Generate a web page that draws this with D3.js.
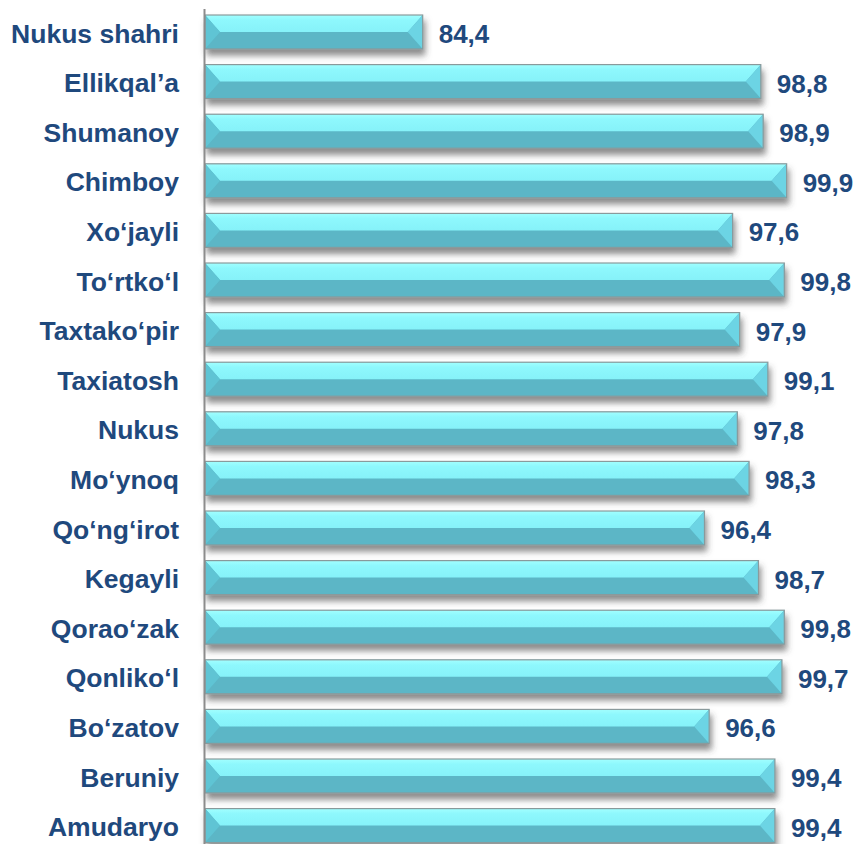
<!DOCTYPE html>
<html>
<head>
<meta charset="utf-8">
<script src="https://cdn.jsdelivr.net/npm/d3@7"></script>
<style>
  body { margin: 0; background: #fff; }
  text { font-family: "Liberation Sans", Arial, sans-serif; font-weight: bold; }
</style>
</head>
<body>
<div id="chart"></div>
<script>
var categories = ["Nukus shahri", "Ellikqal\u2019a", "Shumanoy", "Chimboy", "Xo\u2018jayli", "To\u2018rtko\u2018l",
  "Taxtako\u2018pir", "Taxiatosh", "Nukus", "Mo\u2018ynoq", "Qo\u2018ng\u2018irot", "Kegayli",
  "Qorao\u2018zak", "Qonliko\u2018l", "Bo\u2018zatov", "Beruniy", "Amudaryo"];
var values = [84.4, 98.8, 98.9, 99.9, 97.6, 99.8, 97.9, 99.1, 97.8, 98.3, 96.4, 98.7, 99.8, 99.7, 96.6, 99.4, 99.4];
var valueLabels = ["84,4", "98,8", "98,9", "99,9", "97,6", "99,8", "97,9", "99,1", "97,8", "98,3", "96,4", "98,7",
  "99,8", "99,7", "96,6", "99,4", "99,4"];

var width = 854, height = 844;
var textColor = "#1f497d";

var data = categories.map(function(c, i){
    return { name: c, value: values[i], label: valueLabels[i] };
});

var svg = d3.select("#chart").append("svg")
    .attr("width", width)
    .attr("height", height);

var defs = svg.append("defs");
var shadow = defs.append("filter").attr("id", "shadow")
    .attr("x", "-5%").attr("y", "-30%").attr("width", "115%").attr("height", "180%");
shadow.append("feDropShadow")
    .attr("dx", 2).attr("dy", 6)
    .attr("stdDeviation", 3)
    .attr("flood-color", "#404040")
    .attr("flood-opacity", 0.6);

var topGrad = defs.append("linearGradient").attr("id", "topFace")
    .attr("x1", 0).attr("y1", 0).attr("x2", 0).attr("y2", 1);
topGrad.append("stop").attr("offset", "0%").attr("stop-color", "#a2ffff");
topGrad.append("stop").attr("offset", "30%").attr("stop-color", "#8ef8fd");
topGrad.append("stop").attr("offset", "100%").attr("stop-color", "#86f2f9");

var x = d3.scaleLinear().domain([75, 100]).range([202, 789]);
var y = d3.scaleBand().domain(categories)
    .range([7.2, 7.2 + 17 * 49.6])
    .paddingInner(0.315)
    .paddingOuter(0.1575);

var bev = 15;

var bars = svg.selectAll("g.bar")
    .data(data)
    .enter()
    .append("g")
    .classed("bar", true)
    .attr("filter", "url(#shadow)");

// full bar body
bars.append("rect")
    .attr("x", x(75) + 3)
    .attr("y", function(d){ return y(d.name); })
    .attr("width", function(d){ return x(d.value) - x(75) - 3; })
    .attr("height", y.bandwidth())
    .attr("fill", "#5bb6c6");

// top face
bars.append("path")
    .attr("fill", "url(#topFace)")
    .attr("d", function(d){
        var x0 = x(75) + 3, x1 = x(d.value), y0 = y(d.name), h = y.bandwidth(), m = y0 + h / 2;
        return "M" + x0 + "," + y0 + "L" + x1 + "," + y0 + "L" + (x1 - bev) + "," + m + "L" + (x0 + bev) + "," + m + "Z";
    });

// left face
bars.append("path")
    .attr("fill", "#5fc4d4")
    .attr("d", function(d){
        var x0 = x(75) + 3, y0 = y(d.name), h = y.bandwidth(), m = y0 + h / 2;
        return "M" + x0 + "," + y0 + "L" + (x0 + bev) + "," + m + "L" + x0 + "," + (y0 + h) + "Z";
    });

// right face
bars.append("path")
    .attr("fill", "#6cd4e4")
    .attr("d", function(d){
        var x1 = x(d.value), y0 = y(d.name), h = y.bandwidth(), m = y0 + h / 2;
        return "M" + x1 + "," + y0 + "L" + (x1 - bev) + "," + m + "L" + x1 + "," + (y0 + h) + "Z";
    });

// outline
bars.append("rect")
    .attr("x", x(75) + 3)
    .attr("y", function(d){ return y(d.name); })
    .attr("width", function(d){ return x(d.value) - x(75) - 3; })
    .attr("height", y.bandwidth())
    .attr("fill", "none")
    .attr("stroke", "#8a9a9c")
    .attr("stroke-width", 1.2);

// axis line
svg.append("line")
    .attr("x1", x(75) + 2.5).attr("x2", x(75) + 2.5)
    .attr("y1", 9).attr("y2", height)
    .attr("stroke", "#8c8c8c")
    .attr("stroke-width", 2);

// category labels
svg.selectAll("text.cat")
    .data(data)
    .enter()
    .append("text")
    .classed("cat", true)
    .attr("x", 179)
    .attr("y", function(d){ return y(d.name) + y.bandwidth() / 2 + 10.5; })
    .attr("text-anchor", "end")
    .attr("font-size", 26.5)
    .attr("fill", textColor)
    .text(function(d){ return d.name; });

// value labels
svg.selectAll("text.val")
    .data(data)
    .enter()
    .append("text")
    .classed("val", true)
    .attr("x", function(d){ return x(d.value) + 16; })
    .attr("y", function(d){ return y(d.name) + y.bandwidth() / 2 + 11; })
    .attr("font-size", 26)
    .attr("fill", textColor)
    .text(function(d){ return d.label; });
</script>
</body>
</html>
